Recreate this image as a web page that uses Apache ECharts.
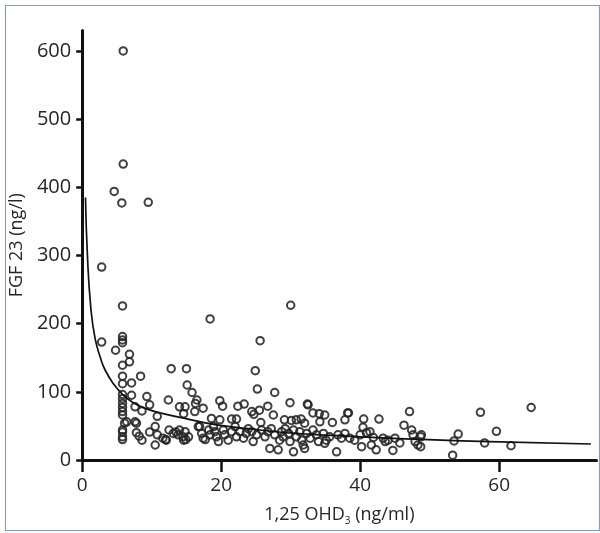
<!DOCTYPE html>
<html>
<head>
<meta charset="utf-8">
<script src="https://cdn.jsdelivr.net/npm/echarts@6/dist/echarts.min.js"></script>
<style>
html,body{margin:0;padding:0;background:#fff;}
#chart{width:600px;height:533px;}
</style>
</head>
<body>
<div id="chart"></div>
<script>
// Scatter values: 1,25 OHD3 (ng/ml) vs FGF 23 (ng/l)
const ohdValues = [
  5.9,5.9,4.6,5.7,9.5,2.8,5.8,5.8,5.8,5.8,2.8,4.8,6.8,6.8,5.8,12.8,15.0,5.8,8.4,18.4,
  30.0,25.6,24.9,25.2,27.7,26.7,29.9,32.5,38.2,47.1,
  5.8,7.1,5.8,5.8,5.8,5.8,5.8,5.8,5.8,5.8,6.1,7.1,9.3,7.6,8.6,9.7,10.8,12.4,14.0,15.1,
  15.8,16.5,16.3,17.4,16.2,14.8,14.6,6.4,7.6,7.8,5.8,5.8,7.8,8.2,8.6,9.7,10.5,10.8,11.6,12.1,
  10.5,12.5,13.1,13.5,13.8,14.5,14.0,12.0,14.9,16.9,17.7,
  19.8,20.2,22.4,23.3,24.4,24.7,25.5,18.6,19.8,21.5,22.2,25.7,29.1,
  14.8,15.3,14.6,16.7,17.2,17.4,18.2,18.4,18.9,19.1,19.3,19.6,20.3,20.5,21.0,21.5,22.0,22.2,22.7,23.2,
  23.6,23.9,24.4,24.6,25.1,25.8,26.3,26.7,27.0,27.2,27.7,28.2,28.4,28.7,28.9,
  32.4,33.2,34.1,34.9,36.0,38.3,37.8,34.2,32.0,30.8,30.1,40.5,42.7,40.4,41.4,40.0,40.9,30.4,32.0,36.6,
  40.2,41.6,42.3,
  29.2,29.7,30.4,30.8,31.3,31.6,32.3,32.8,33.2,33.7,34.0,34.7,35.1,35.6,36.8,37.3,37.8,38.5,39.2,34.9,
  31.8,29.9,
  57.3,46.3,47.4,47.6,48.8,48.3,47.9,54.1,53.5,57.9,53.3,44.7,45.7,45.0,44.0,43.6,59.6,64.6,61.7,48.7,
  48.7,27.5,31.5,41.9,43.3
];
const fgfValues = [
  600,434,394,377,378,283,226,181,176,172,173,161,155,144,139,134,134,123,123,207,
  227,175,131,104,99,79,84,81,69,71,
  112,113,96,90,83,77,71,66,44,34,54,95,93,78,72,81,64,88,78,110,
  99,88,83,76,71,78,68,56,56,54,41,30,40,35,29,41,49,37,32,29,
  22,44,39,41,37,34,44,30,30,49,30,
  87,79,79,82,71,67,73,61,59,60,60,55,59,
  41.5,34,29,49,39,32,44,37,49,41.5,34,27,44,37,29,41.5,49,34,41.5,32,
  39,46,41.5,27,37,44,34,41.5,17,46,37,15,29,41.5,34,
  82,69,68,66,55,69,59,56,54,59,58,60,60,48,41.5,37,40,12,17,12,
  19.5,22,15,
  46,39,44,34,41.5,29,39,32,44,37,27,39,29,34,37,32,39,32,29,24.5,
  22,27,
  70,51,44,37,37,22,27,38,28,25,7,14,25,32,29,27,42,77,21,34,
  19.5,66,60,33,32
];
// Fitted curve, points
const curveX = [0.47,0.76,1.25,1.86,2.68,3.30,4.48,5.92,7.35,9.27,11.65,14.76,19.1,23.9,29.4,36.1,44.0,50.7,58.6,73.2];
const curveY = [385,298,222,178,148,132,112,95,84,75,68,61,52,46,40,36,32,29.5,27,23.5];

const xTicks = [0,20,40,60];
const yTicks = [0,100,200,300,400,500,600];

const scatterData = ohdValues.map((v,i)=>[v,fgfValues[i]]);
const curveData = curveX.map((v,i)=>[v,curveY[i]]);

const chart = echarts.init(document.getElementById('chart'), null, {renderer:'canvas'});
const textColor = '#262626';
const fontFamily = '"Open Sans", "Noto Sans", sans-serif';
chart.setOption({
  animation:false,
  backgroundColor:'#fff',
  graphic:[{
    type:'rect', left:3, top:3, shape:{width:594, height:525},
    style:{fill:'none', stroke:'#7f9fca', lineWidth:1.2}, silent:true
  }],
  grid:{left:80, right:3.5, top:30.5, bottom:73, containLabel:false},
  xAxis:{
    type:'value', min:0, max:74, interval:20,
    name:'1,25 OHD{sub|3} (ng/ml)', nameLocation:'middle', nameGap:44,
    nameTextStyle:{color:textColor, fontSize:18, fontFamily:fontFamily,
      rich:{sub:{fontSize:10, color:textColor, fontFamily:fontFamily, padding:[12,0,0,0]}}},
    axisLine:{show:true, onZero:false, lineStyle:{color:'#111', width:3}},
    axisTick:{show:true, length:12, lineStyle:{color:'#111', width:2.5},
      customValues: xTicks},
    axisLabel:{color:textColor, fontSize:19, fontFamily:fontFamily, margin:16,
      customValues: xTicks},
    splitLine:{show:false}
  },
  yAxis:{
    type:'value', min:0, max:630, interval:100,
    name:'FGF 23 (ng/l)', nameLocation:'middle', nameGap:55,
    nameTextStyle:{color:textColor, fontSize:18, fontFamily:fontFamily},
    axisLine:{show:true, onZero:false, lineStyle:{color:'#111', width:3}},
    axisTick:{show:true, length:6, lineStyle:{color:'#111', width:2.5},
      customValues: yTicks},
    axisLabel:{color:textColor, fontSize:20, fontFamily:fontFamily, margin:11,
      customValues: yTicks},
    splitLine:{show:false}
  },
  series:[
    {
      type:'scatter', data:scatterData, symbol:'circle', symbolSize:7.5,
      itemStyle:{color:'rgba(0,0,0,0)', borderColor:'#262626', borderWidth:2, opacity:0.88},
      z:2
    },
    {
      type:'line', data:curveData, smooth:0.5, symbol:'none',
      lineStyle:{color:'#111', width:1.7}, z:3
    }
  ]
});
</script>
</body>
</html>
